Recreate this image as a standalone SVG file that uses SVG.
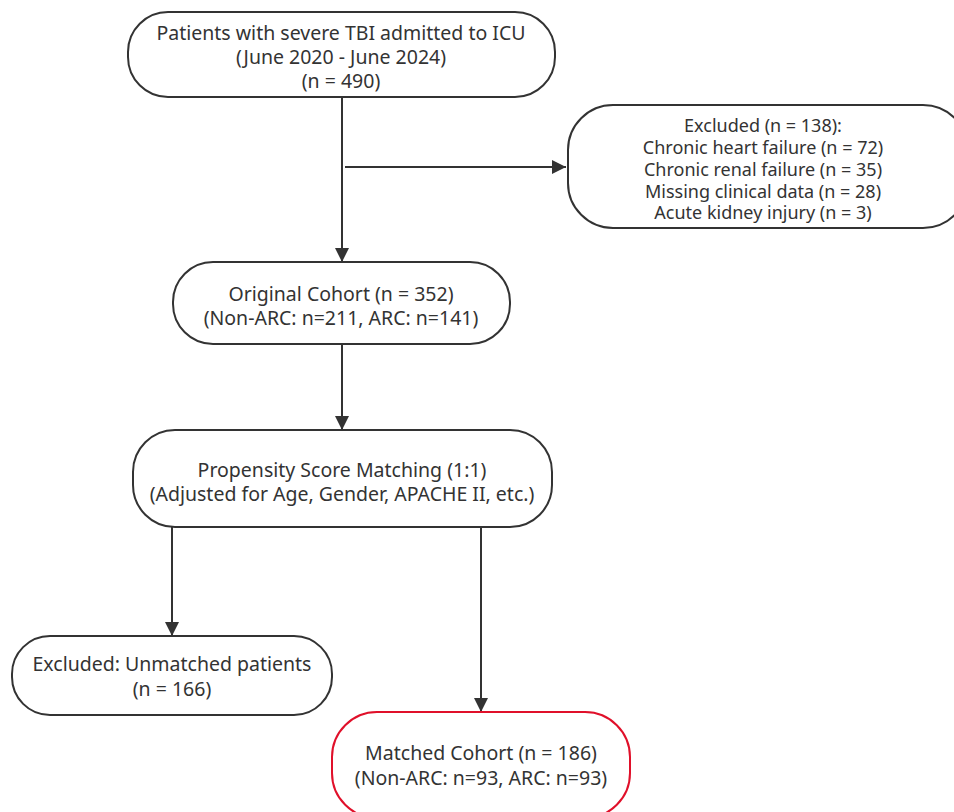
<svg xmlns="http://www.w3.org/2000/svg" width="954" height="812" viewBox="0 0 954 812">
<defs>
<marker id="ah" viewBox="0 0 12 12" refX="12" refY="6" markerWidth="14" markerHeight="14" markerUnits="userSpaceOnUse" orient="auto"><path d="M0,0 L12,6 L0,12 z" fill="#333"/></marker>
<style>
.n{fill:#fff;stroke:#333;stroke-width:2}
.r{fill:#fff;stroke:#e0102a;stroke-width:2}
text{font-family:"Noto Sans","Open Sans","Liberation Sans",sans-serif;font-size:19.5px;fill:#333;text-anchor:middle}
.s{font-size:18px}
.e{stroke:#333;stroke-width:2;fill:none;marker-end:url(#ah)}
</style>
</defs>
<rect width="954" height="812" fill="#fff"/>
<g id="connectors">
<path class="e" d="M342,97 V262"/>
<path class="e" d="M345,167 H566"/>
<path class="e" d="M342,344 V430"/>
<path class="e" d="M172,527 V636"/>
<path class="e" d="M481,527 V712"/>
</g>
<g id="n1">
<rect class="n" x="128" y="12" width="427" height="85" rx="40" ry="40"/>
<text x="341" y="40">Patients with severe TBI admitted to ICU</text>
<text x="341" y="64">(June 2020 - June 2024)</text>
<text x="341" y="88">(n = 490)</text>
</g>
<g id="n2">
<rect class="n" x="568" y="105" width="400" height="123" rx="45" ry="45"/>
<text class="s" x="763" y="132">Excluded (n = 138):</text>
<text class="s" x="763" y="154">Chronic heart failure (n = 72)</text>
<text class="s" x="763" y="176">Chronic renal failure (n = 35)</text>
<text class="s" x="763" y="198">Missing clinical data (n = 28)</text>
<text class="s" x="763" y="219">Acute kidney injury (n = 3)</text>
</g>
<g id="n3">
<rect class="n" x="173" y="262" width="337" height="82" rx="40" ry="40"/>
<text x="341" y="301">Original Cohort (n = 352)</text>
<text x="341" y="325">(Non-ARC: n=211, ARC: n=141)</text>
</g>
<g id="n4">
<rect class="n" x="133" y="430" width="419" height="97" rx="42" ry="42"/>
<text x="342" y="477">Propensity Score Matching (1:1)</text>
<text x="342" y="501">(Adjusted for Age, Gender, APACHE II, etc.)</text>
</g>
<g id="n5">
<rect class="n" x="12" y="636" width="320" height="79" rx="38" ry="38"/>
<text x="172" y="671">Excluded: Unmatched patients</text>
<text x="172" y="696">(n = 166)</text>
</g>
<g id="n6">
<rect class="r" x="332" y="712" width="298" height="106" rx="45" ry="45"/>
<text x="481" y="760">Matched Cohort (n = 186)</text>
<text x="481" y="785">(Non-ARC: n=93, ARC: n=93)</text>
</g>
</svg>
